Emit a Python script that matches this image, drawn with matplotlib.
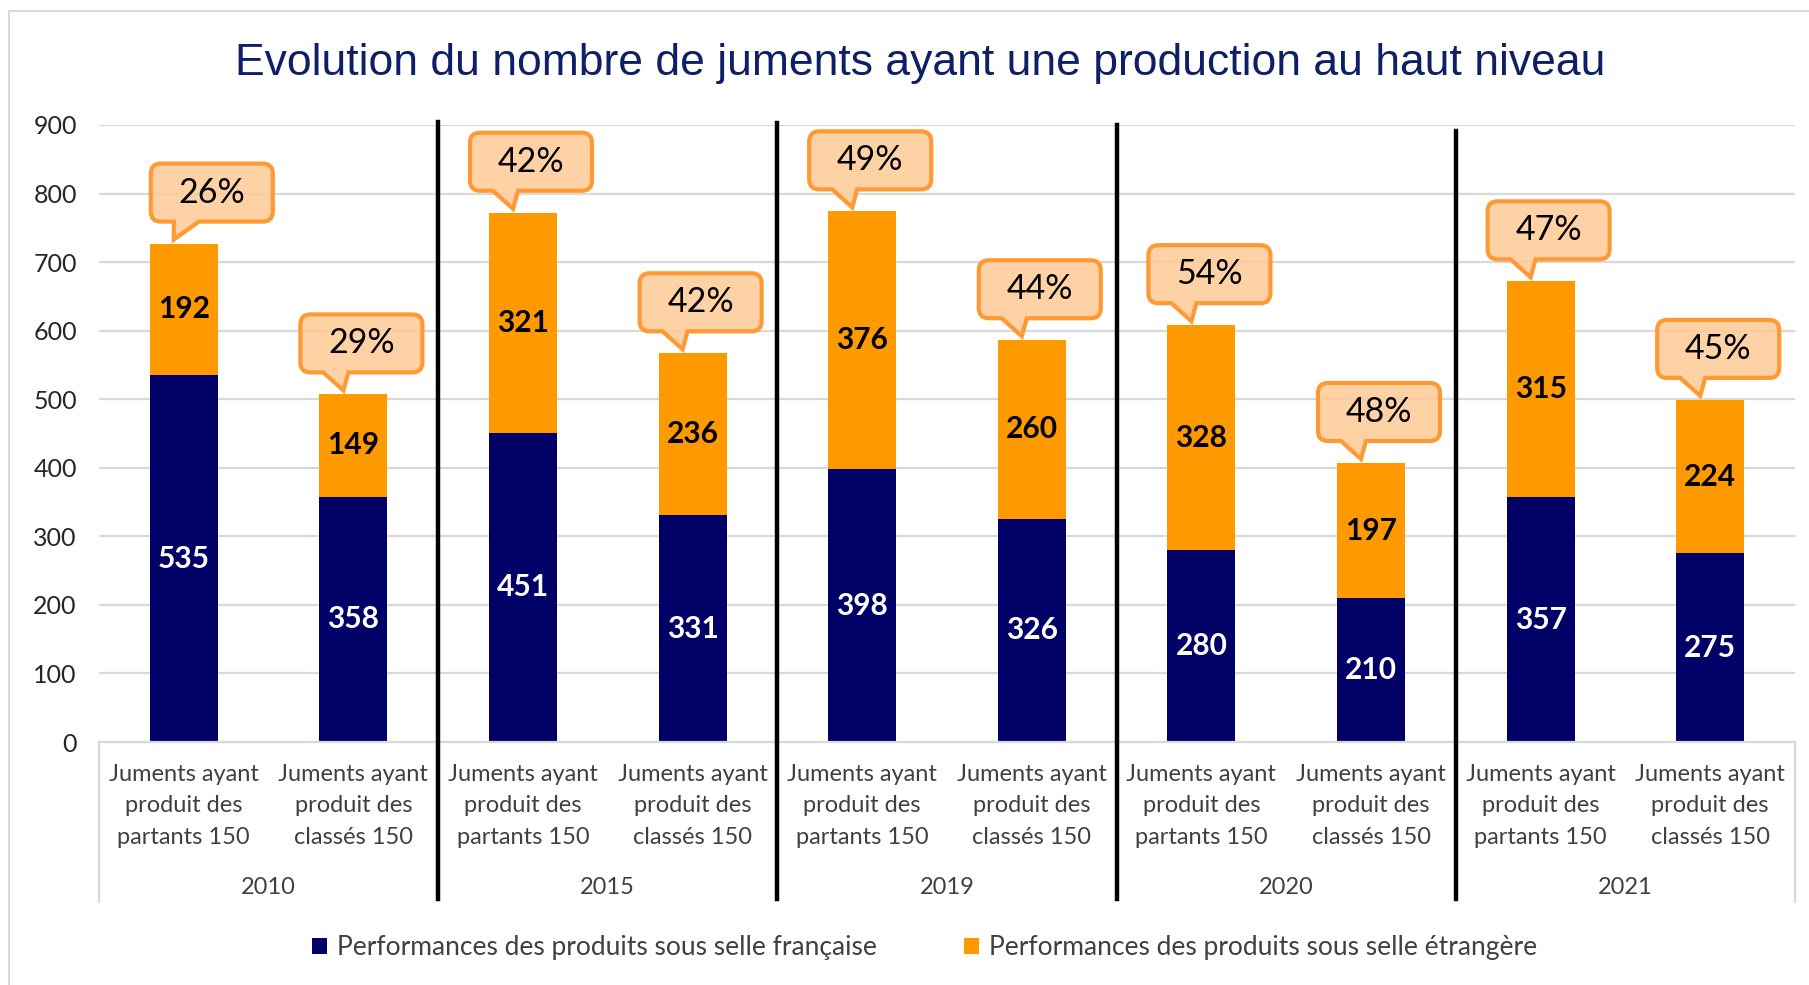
import numpy as np
import matplotlib
matplotlib.use("Agg")
import matplotlib.pyplot as plt
import matplotlib.transforms as mtransforms
from matplotlib.path import Path
from matplotlib.patches import PathPatch, Patch, Rectangle

# data
years = ["2010", "2015", "2019", "2020", "2021"]
categories = ["Juments ayant\nproduit des\npartants 150",
              "Juments ayant\nproduit des\nclassés 150"] * 5
selle_fr = [535, 358, 451, 331, 398, 326, 280, 210, 357, 275]
selle_etr = [192, 149, 321, 236, 376, 260, 328, 197, 315, 224]
pct_etr = ["26%", "29%", "42%", "42%", "49%", "44%", "54%", "48%", "47%", "45%"]

NAVY = "#000066"
ORANGE = "#FF9900"
GRID = "#D9D9D9"
TXT = "#404040"
FONT = "Lato"

plt.rcParams["font.family"] = [FONT, "DejaVu Sans"]

W, H = 1809, 985
fig = plt.figure(figsize=(W / 100, H / 100), dpi=100)
ax = fig.add_axes([99 / W, 1 - 742 / H, (1795 - 99) / W, (742 - 125) / H])

x = np.arange(len(categories))
fr = np.array(selle_fr)
et = np.array(selle_etr)
tot = fr + et

ax.bar(x, fr, width=0.4, color=NAVY, zorder=2)
ax.bar(x, et, bottom=fr, width=0.4, color=ORANGE, zorder=2)

ax.set_xlim(-0.5, len(categories) - 0.5)
ax.set_ylim(0, 900)
ax.set_yticks(np.arange(0, 901, 100))
ax.yaxis.grid(True, color=GRID, linewidth=1.6, zorder=0)
ax.set_axisbelow(True)
for s in ["left", "right", "top"]:
    ax.spines[s].set_visible(False)
ax.spines["bottom"].set_color(GRID)
ax.spines["bottom"].set_linewidth(1.6)
ax.tick_params(axis="y", length=0, pad=16, labelsize=18, labelcolor="#262626")
ax.tick_params(axis="x", length=0, pad=16)
ax.set_xticks(x)
ax.set_xticklabels(categories, fontsize=17, color=TXT, linespacing=1.6)

# value labels inside the segments
for i in range(len(x)):
    ax.text(x[i], fr[i] / 2, str(fr[i]), ha="center", va="center",
            color="white", fontsize=21.5, fontweight="bold", zorder=3)
    ax.text(x[i], fr[i] + et[i] / 2, str(et[i]), ha="center", va="center",
            color="black", fontsize=21.5, fontweight="bold", zorder=3)


# speech bubble with the share of foreign saddle, drawn in pixels above bar top
def bubble(xc, ytop, label, dx=8):
    w, h, r = 122, 58, 10
    xl, xr = dx - w / 2, dx + w / 2
    yb, yt = 22, 22 + h
    bl, br, tip = xl + 23, xl + 48, -10
    verts = [(xl + r, yb), (bl, yb), (tip, 4), (br, yb), (xr - r, yb),
             (xr, yb), (xr, yb + r), (xr, yt - r), (xr, yt), (xr - r, yt),
             (xl + r, yt), (xl, yt), (xl, yt - r), (xl, yb + r), (xl, yb),
             (xl + r, yb), (0, 0)]
    codes = [Path.MOVETO, Path.LINETO, Path.LINETO, Path.LINETO, Path.LINETO,
             Path.CURVE3, Path.CURVE3, Path.LINETO, Path.CURVE3, Path.CURVE3,
             Path.LINETO, Path.CURVE3, Path.CURVE3, Path.LINETO, Path.CURVE3,
             Path.CURVE3, Path.CLOSEPOLY]
    tr = mtransforms.Affine2D() + mtransforms.ScaledTranslation(xc, ytop, ax.transData)
    p = PathPatch(Path(verts, codes), facecolor=(1, 0.8, 0.6, 0.88),
                  edgecolor="#FF9933", linewidth=3, transform=tr,
                  clip_on=False, zorder=4)
    ax.add_patch(p)
    ax.annotate(label, xy=(xc, ytop), xytext=(dx * 0.72, (yb + h / 2) * 0.72),
                textcoords="offset points", ha="center", va="center",
                fontsize=24.5, color="black", zorder=5)


for i in range(len(x)):
    bubble(x[i], tot[i], pct_etr[i], dx=28 if i == 0 else 8)

# black separators between years
sep_tops = [1.005, 1.003, 1.0, 0.99]
for k, top in enumerate(sep_tops):
    xs = 2 * k + 1.5
    ax.plot([xs, xs], [top, -0.255], color="black", linewidth=3.2,
            transform=ax.get_xaxis_transform(), clip_on=False, zorder=6)

# light grey frame of the category axis
for xs in [-0.5, len(categories) - 0.5]:
    ax.plot([xs, xs], [0, -0.26], color=GRID, linewidth=1.6,
            transform=ax.get_xaxis_transform(), clip_on=False, zorder=1)

# year labels under each pair
for k, yr in enumerate(years):
    ax.text(2 * k + 0.5, -(887 - 742) / 617, yr, ha="center", va="center",
            fontsize=17, color=TXT, transform=ax.get_xaxis_transform())

fig.text(920 / W, 1 - 64 / H,
         "Evolution du nombre de juments ayant une production au haut niveau",
         ha="center", va="center", fontsize=32, color="#0F1F66",
         family=["Liberation Sans", "DejaVu Sans"])

handles = [Patch(facecolor=NAVY), Patch(facecolor=ORANGE)]
fig.legend(handles,
           ["Performances des produits sous selle française",
            "Performances des produits sous selle étrangère"],
           loc="center", bbox_to_anchor=(925 / W, 1 - 948 / H), ncol=2,
           frameon=False, fontsize=19, labelcolor=TXT,
           handlelength=0.55, handleheight=0.55, handletextpad=0.4,
           columnspacing=3.3)

fig.patches.append(Rectangle((9 / W, -0.1), 1.2, 1.1 - 11 / H,
                             transform=fig.transFigure, fill=False,
                             edgecolor=GRID, linewidth=1.5))

fig.savefig("out.png", dpi=100)
